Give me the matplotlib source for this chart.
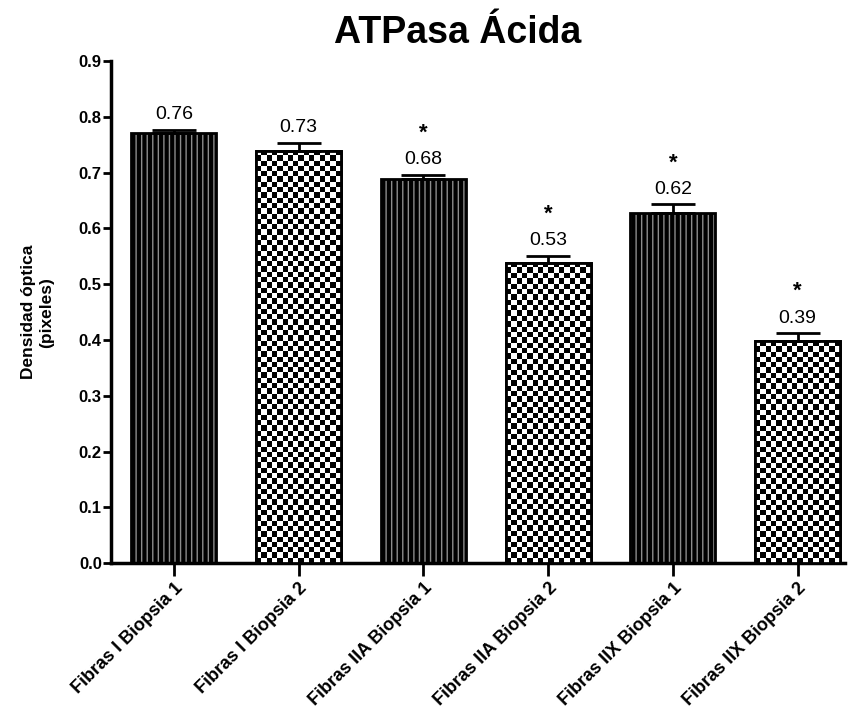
import numpy as np
import matplotlib
matplotlib.use("Agg")
import matplotlib.pyplot as plt

categories = ["Fibras I Biopsia 1", "Fibras I Biopsia 2", "Fibras IIA Biopsia 1",
              "Fibras IIA Biopsia 2", "Fibras IIX Biopsia 1", "Fibras IIX Biopsia 2"]
means = [0.771, 0.739, 0.689, 0.538, 0.627, 0.398]
errors = [0.006, 0.014, 0.007, 0.013, 0.016, 0.014]
value_labels = ["0.76", "0.73", "0.68", "0.53", "0.62", "0.39"]
significant = [False, False, True, True, True, True]
patterns = ["stripes", "checker", "stripes", "checker", "stripes", "checker"]
yticks = [0.0, 0.1, 0.2, 0.3, 0.4, 0.5, 0.6, 0.7, 0.8, 0.9]

plt.rcParams['font.family'] = ['Liberation Sans', 'DejaVu Sans']
plt.rcParams['hatch.linewidth'] = 1.0

fig = plt.figure(figsize=(8.51, 7.11), dpi=100)
ax = fig.add_axes([0.131, 0.208, 0.862, 0.706])

x = np.arange(len(categories))
width = 0.68

for xi, m, p in zip(x, means, patterns):
    if p == "stripes":
        ax.bar(xi, m, width, color="black", edgecolor="#8c8c8c", hatch="|||", linewidth=0, zorder=2)
        ax.bar(xi, m, width, fill=False, edgecolor="black", linewidth=2, zorder=4)
    else:
        b = ax.bar(xi, m, width, color="white", edgecolor="black", linewidth=2, zorder=2)[0]
        ncols = 16
        nrows = int(round(m * 557.8 / (85 / ncols)))
        board = (np.add.outer(np.arange(nrows), np.arange(ncols)) % 2).astype(float)
        im = ax.imshow(board, cmap="gray", interpolation="nearest", aspect="auto",
                       extent=(xi - width / 2, xi + width / 2, 0, m), origin="lower",
                       vmin=0, vmax=1, zorder=3)
        im.set_clip_path(b)
        ax.bar(xi, m, width, fill=False, edgecolor="black", linewidth=2, zorder=4)

ax.errorbar(x, means, yerr=[np.zeros(len(errors)), errors], fmt="none",
            ecolor="black", elinewidth=2, capsize=15.5, capthick=2, zorder=5)

for xi, m, e, lab, s in zip(x, means, errors, value_labels, significant):
    ax.text(xi, m + e + 0.012, lab, ha="center", va="bottom", fontsize=14, zorder=6)
    if s:
        ax.text(xi, m + e + 0.056, "*", ha="center", va="bottom", fontsize=16,
                fontweight="bold", zorder=6)

ax.set_xlim(-0.5, 5.38)
ax.set_ylim(0, 0.9)
ax.set_xticks(x)
ax.set_xticklabels(categories, rotation=45, ha="right", rotation_mode="anchor",
                   fontsize=13, fontweight="bold")
ax.set_yticks(yticks)
ax.set_yticklabels([f"{v:.1f}" for v in yticks], fontsize=12, fontweight="bold")
ax.tick_params(axis="y", direction="out", length=6, width=2, pad=1)
ax.tick_params(axis="x", direction="out", length=9, width=2, pad=3)

for side in ["top", "right"]:
    ax.spines[side].set_visible(False)
for side in ["left", "bottom"]:
    ax.spines[side].set_linewidth(2.5)

ax.set_ylabel("Densidad óptica\n(pixeles)", fontsize=12.5, fontweight="bold", labelpad=18)
fig.text(0.538, 0.953, "ATPasa Ácida", ha="center", va="center", fontsize=27, fontweight="bold")

fig.savefig("out.png", dpi=100)
